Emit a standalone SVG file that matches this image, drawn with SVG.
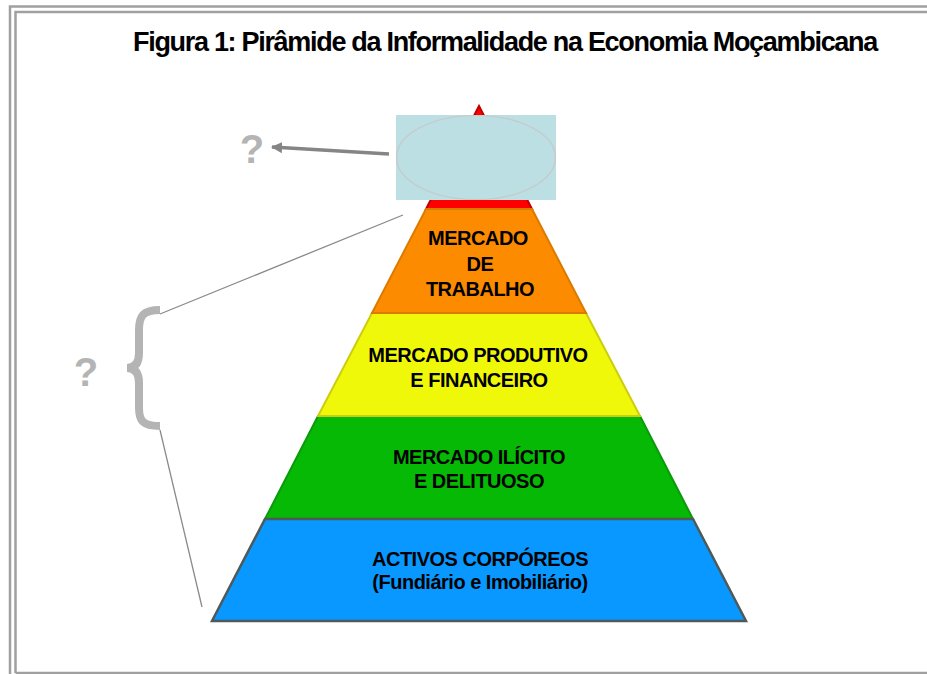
<svg xmlns="http://www.w3.org/2000/svg" width="927" height="674" viewBox="0 0 927 674">
<defs>
<style>
.frame{fill:none;stroke:#a0a0a0;stroke-width:2.5}
.lbl{font-family:"Liberation Sans",Arial,sans-serif;font-weight:bold;font-size:20px;letter-spacing:-0.5px;fill:#000;text-anchor:middle}
.q{font-family:"Liberation Sans",Arial,sans-serif;font-weight:bold;font-size:40px;fill:#b4b4b4;text-anchor:middle}
.thin{stroke:#8a8a8a;stroke-width:1.3;fill:none}
</style>
<marker id="ah" viewBox="0 0 10 10" refX="9" refY="5" markerWidth="3.2" markerHeight="3.2" orient="auto" markerUnits="strokeWidth">
<path d="M0,0 L10,5 L0,10 z" fill="#858585"/>
</marker>
</defs>
<rect width="927" height="674" fill="#fff"/>
<g id="frame">
<path class="frame" d="M10,674 V6.5 H927"/>
<path class="frame" d="M15.5,673 V12 H927 M15.5,673 H927"/>
</g>
<text id="title" x="505" y="51" font-family="'Liberation Sans',Arial,sans-serif" font-weight="bold" font-size="27" letter-spacing="-1.3" text-anchor="middle">Figura 1: Pirâmide da Informalidade na Economia Moçambicana</text>
<g id="layer-red">
<polygon points="479,106 426,209 532,209" fill="#ff0000" stroke="#c00000" stroke-width="2"/>
</g>
<g id="layer-green">
<polygon points="318,416 640,416 693,519 265,519" fill="#05b905" stroke="#0a9a0a" stroke-width="2"/>
<text class="lbl" x="479" y="464">MERCADO ILÍCITO</text>
<text class="lbl" x="479" y="488">E DELITUOSO</text>
</g>
<g id="layer-yellow">
<polygon points="372,313 586,313 640,416 318,416" fill="#f0f80a" stroke="#cccc10" stroke-width="2"/>
<text class="lbl" x="478" y="362">MERCADO PRODUTIVO</text>
<text class="lbl" x="479" y="387">E FINANCEIRO</text>
</g>
<g id="layer-orange">
<polygon points="426,209 532,209 586,313 372,313" fill="#fd8b00" stroke="#dc7a00" stroke-width="2"/>
<text class="lbl" x="478" y="245">MERCADO</text>
<text class="lbl" x="480" y="271">DE</text>
<text class="lbl" x="480" y="296">TRABALHO</text>
</g>
<g id="layer-blue">
<polygon points="265,519 693,519 746,621 212,621" fill="#0898ff" stroke="#4e5a5a" stroke-width="2.5" stroke-linejoin="miter"/>
<text class="lbl" x="480" y="566">ACTIVOS CORPÓREOS</text>
<text class="lbl" x="480" y="589">(Fundiário e Imobiliário)</text>
</g>
<g id="top-box">
<rect x="396" y="115" width="160" height="85" fill="#bbdfe3"/>
<ellipse cx="476" cy="157.5" rx="79.5" ry="42" fill="none" stroke="#c8c8c8" stroke-width="1.2"/>
</g>
<g id="q-top">
<text class="q" x="252" y="163">?</text>
</g>
<g id="brace">
<path d="M160,310 C143,310 139,316 139,330 L139,353 C139,363 135,368 127,368 C135,368 139,373 139,383 L139,408 C139,421 143,426 160,426" fill="none" stroke="#b4b4b4" stroke-width="8"/>
</g>
<g id="q-left">
<text class="q" x="86" y="386">?</text>
</g>
<g id="connectors">
<line x1="389" y1="154" x2="272" y2="147" stroke="#858585" stroke-width="3.5" marker-end="url(#ah)"/>
<line class="thin" x1="403" y1="215" x2="160" y2="314"/>
<line class="thin" x1="160" y1="430" x2="202" y2="607"/>
</g>
</svg>
